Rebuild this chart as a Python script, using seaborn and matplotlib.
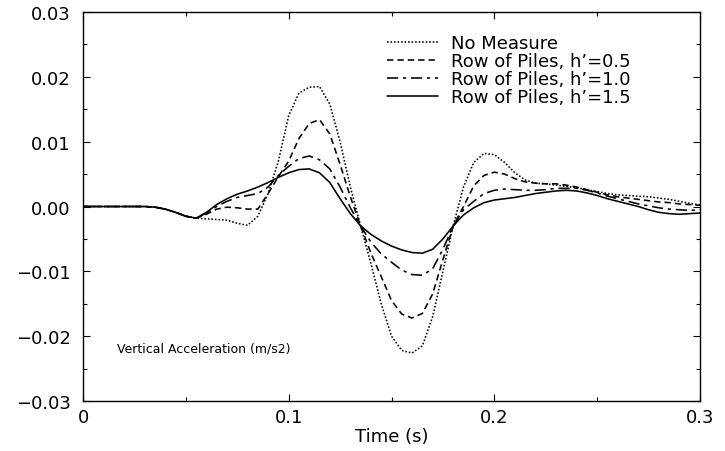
import numpy as np
import pandas as pd
import seaborn as sns
import matplotlib.pyplot as plt
from matplotlib.ticker import MultipleLocator, FuncFormatter

# tempo (s), passo de 0.005
tempo = np.round(np.arange(0, 0.3001, 0.005), 3)

sem_medida = [0, 0, 0, 0, 0, 0, 0, -0.0001, -0.0004, -0.0009, -0.0015, -0.0018,
              -0.0019, -0.0020, -0.0021, -0.0026, -0.0029, -0.0015, 0.0020, 0.0070,
              0.0140, 0.0175, 0.0184, 0.0185, 0.0158, 0.0100, 0.0030, -0.0030,
              -0.0088, -0.0150, -0.0200, -0.0222, -0.0226, -0.0215, -0.0170, -0.0100,
              -0.0030, 0.0030, 0.0068, 0.0082, 0.0080, 0.0068, 0.0052, 0.0041,
              0.0036, 0.0035, 0.0033, 0.0031, 0.0029, 0.0026, 0.0023, 0.0020,
              0.0018, 0.0017, 0.0016, 0.0015, 0.0013, 0.0011, 0.0008, 0.0005, 0.0002]

estacas_05 = [0, 0, 0, 0, 0, 0, 0, -0.0001, -0.0004, -0.0009, -0.0015, -0.0018,
              -0.0012, -0.0004, -0.0001, -0.0002, -0.0004, -0.0004, 0.0020, 0.0046,
              0.0070, 0.0105, 0.0128, 0.0134, 0.0112, 0.0065, 0.0015, -0.0030,
              -0.0072, -0.0108, -0.0145, -0.0166, -0.0172, -0.0165, -0.0135, -0.0082,
              -0.0030, 0.0000, 0.0032, 0.0048, 0.0053, 0.0050, 0.0043, 0.0038,
              0.0036, 0.0035, 0.0035, 0.0033, 0.0030, 0.0026, 0.0022, 0.0018,
              0.0015, 0.0013, 0.0011, 0.0009, 0.0007, 0.0006, 0.0004, 0.0003, 0.0002]

estacas_10 = [0, 0, 0, 0, 0, 0, 0, -0.0001, -0.0004, -0.0009, -0.0015, -0.0018,
              -0.0010, 0.0000, 0.0008, 0.0014, 0.0017, 0.0020, 0.0030, 0.0048,
              0.0062, 0.0074, 0.0078, 0.0072, 0.0058, 0.0030, -0.0002, -0.0030,
              -0.0055, -0.0073, -0.0086, -0.0098, -0.0105, -0.0106, -0.0096, -0.0066,
              -0.0030, -0.0005, 0.0008, 0.0020, 0.0025, 0.0027, 0.0026, 0.0025,
              0.0025, 0.0026, 0.0028, 0.0028, 0.0028, 0.0025, 0.0021, 0.0016,
              0.0012, 0.0008, 0.0004, 0.0001, -0.0002, -0.0004, -0.0005, -0.0006, -0.0005]

estacas_15 = [0, 0, 0, 0, 0, 0, 0, -0.0001, -0.0004, -0.0009, -0.0015, -0.0018,
              -0.0009, 0.0003, 0.0012, 0.0019, 0.0024, 0.0030, 0.0037, 0.0045,
              0.0052, 0.0057, 0.0058, 0.0052, 0.0037, 0.0012, -0.0011, -0.0030,
              -0.0043, -0.0053, -0.0061, -0.0067, -0.0071, -0.0072, -0.0066, -0.0050,
              -0.0030, -0.0013, -0.0002, 0.0006, 0.0010, 0.0012, 0.0014, 0.0017,
              0.0020, 0.0022, 0.0024, 0.0025, 0.0024, 0.0021, 0.0017, 0.0012,
              0.0008, 0.0004, 0.0000, -0.0005, -0.0009, -0.0011, -0.0012, -0.0011, -0.0010]

casos = ["No Measure", "Row of Piles, h\u2019=0.5", "Row of Piles, h\u2019=1.0", "Row of Piles, h\u2019=1.5"]
series = [sem_medida, estacas_05, estacas_10, estacas_15]

df = pd.concat([pd.DataFrame({"t": tempo, "acc": s, "caso": c}) for c, s in zip(casos, series)])

sns.set_style("ticks")
plt.rcParams["font.family"] = ["DejaVu Sans"]
plt.rcParams.update({"text.color": "black", "axes.labelcolor": "black",
                     "xtick.color": "black", "ytick.color": "black"})

fig = plt.figure(figsize=(7.25, 4.52), dpi=100)
ax = fig.add_axes([0.1145, 0.1106, 0.851, 0.8606])

tracos = {casos[0]: (1, 1.2), casos[1]: (4, 2.5), casos[2]: (7, 3, 2, 3), casos[3]: ""}
sns.lineplot(data=df, x="t", y="acc", style="caso", style_order=casos, dashes=tracos,
             color="black", linewidth=1.15, ax=ax)

ax.set_xlim(0, 0.3)
ax.set_ylim(-0.03, 0.03)
ax.xaxis.set_major_locator(MultipleLocator(0.1))
ax.xaxis.set_minor_locator(MultipleLocator(0.05))
ax.yaxis.set_major_locator(MultipleLocator(0.01))
ax.yaxis.set_minor_locator(MultipleLocator(0.005))
ax.xaxis.set_major_formatter(FuncFormatter(lambda v, p: "0" if abs(v) < 1e-9 else f"{v:.1f}"))
ax.yaxis.set_major_formatter(FuncFormatter(lambda v, p: f"{v:.2f}".replace("-", "\u2212")))
ax.tick_params(which="both", direction="in", top=True, right=True, labelsize=13, width=0.8)
ax.tick_params(which="major", length=5)
ax.tick_params(which="minor", length=3)
ax.tick_params(axis="y", pad=9)
ax.tick_params(axis="x", pad=5)
for s in ax.spines.values():
    s.set_linewidth(1.0)
    s.set_color("black")

ax.set_xlabel("Time (s)", fontsize=13, labelpad=1)
ax.set_ylabel("")
ax.text(0.055, 0.136, "Vertical Acceleration (m/s2)", transform=ax.transAxes,
        fontsize=9, va="center")

ax.legend(loc="upper left", bbox_to_anchor=(0.467, 0.985), frameon=False, fontsize=13,
          handlelength=2.8, handletextpad=0.75, labelspacing=0.0, title=None)

fig.savefig("out.png", dpi=100)
